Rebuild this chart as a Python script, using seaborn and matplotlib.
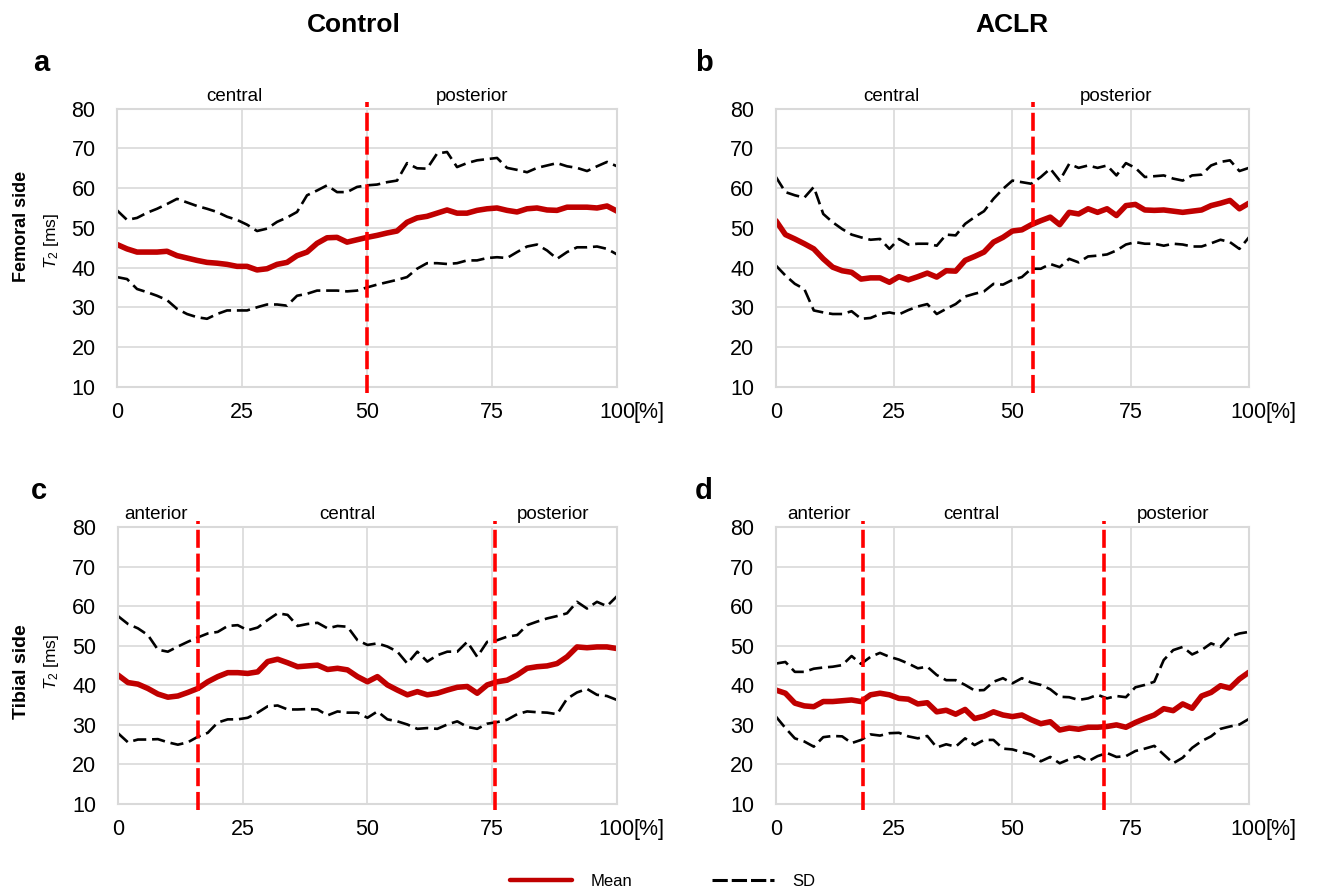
import numpy as np
import pandas as pd
import matplotlib
matplotlib.use("Agg")
import matplotlib.pyplot as plt
import seaborn as sns

# position along the cartilage [%]
pos = np.arange(0, 101, 2)

# a: Control, femoral
a_up = [54.4, 52.0, 52.5, 53.8, 54.8, 56.0, 57.3, 56.4, 55.5, 54.8, 54.0, 52.8, 52.0, 50.8, 49.2, 49.8,
        51.5, 52.6, 54.0, 58.2, 59.4, 60.7, 59.0, 59.0, 60.3, 60.7, 60.9, 61.5, 61.9, 66.3, 65.0, 64.9,
        68.7, 69.1, 65.3, 66.3, 67.0, 67.3, 67.6, 65.1, 64.6, 64.0, 65.1, 65.7, 66.3, 65.5, 65.1, 64.3,
        65.5, 66.6, 65.5]
a_mean = [45.8, 44.7, 43.9, 43.9, 43.9, 44.1, 43.0, 42.4, 41.8, 41.3, 41.1, 40.8, 40.3, 40.3, 39.4, 39.7,
          40.8, 41.3, 43.0, 43.9, 46.1, 47.5, 47.6, 46.4, 47.0, 47.6, 48.1, 48.7, 49.2, 51.4, 52.5, 52.9,
          53.7, 54.5, 53.7, 53.7, 54.4, 54.8, 55.0, 54.4, 54.0, 54.8, 55.0, 54.5, 54.4, 55.2, 55.2, 55.2,
          55.0, 55.5, 54.2]
a_low = [37.6, 37.1, 34.6, 33.8, 32.9, 31.8, 29.6, 28.3, 27.5, 27.1, 28.3, 29.2, 29.2, 29.2, 30.0, 30.7,
         30.7, 30.4, 32.9, 33.4, 34.2, 34.2, 34.2, 34.0, 34.2, 35.0, 35.7, 36.3, 36.9, 37.6, 39.7, 41.1,
         41.1, 40.9, 41.1, 41.8, 41.8, 42.4, 42.6, 42.4, 43.9, 45.3, 45.8, 44.3, 42.2, 43.9, 45.1, 45.1,
         45.3, 44.7, 43.3]

# b: ACLR, femoral
b_up = [62.8, 59.0, 58.2, 57.6, 60.3, 53.5, 51.4, 49.7, 48.3, 47.6, 47.0, 47.2, 44.7, 47.2, 45.8, 46.0,
        46.0, 45.5, 48.3, 48.1, 51.0, 52.7, 54.2, 57.3, 59.8, 61.9, 61.5, 61.1, 62.8, 64.9, 61.9, 66.1,
        65.1, 65.7, 65.1, 65.7, 63.2, 66.3, 65.1, 62.8, 63.0, 63.2, 62.4, 61.9, 63.2, 63.4, 65.7, 66.6,
        67.0, 64.3, 65.1]
b_mean = [51.8, 48.3, 47.2, 46.0, 44.7, 42.2, 40.1, 39.2, 38.8, 37.1, 37.4, 37.4, 36.3, 37.7, 36.9, 37.7,
          38.6, 37.6, 39.2, 39.1, 41.8, 42.8, 43.9, 46.4, 47.6, 49.2, 49.5, 50.8, 51.8, 52.7, 50.8, 53.9,
          53.5, 54.8, 53.9, 54.8, 53.1, 55.6, 55.9, 54.5, 54.4, 54.5, 54.2, 53.9, 54.2, 54.5, 55.6, 56.2,
          56.9, 54.8, 56.2]
b_low = [40.5, 38.0, 35.9, 34.6, 29.2, 28.7, 28.3, 28.3, 29.0, 27.1, 27.3, 28.3, 28.7, 28.2, 29.3, 30.2,
         30.8, 28.3, 29.6, 30.8, 32.7, 33.4, 34.0, 35.9, 35.7, 36.9, 37.6, 39.7, 39.7, 40.9, 40.1, 42.2,
         41.3, 42.8, 43.0, 43.3, 44.3, 45.8, 46.4, 46.0, 46.0, 45.5, 46.0, 45.8, 45.3, 45.3, 46.1, 47.0,
         46.4, 44.7, 47.6]

# c: Control, tibial
c_up = [57.5, 55.5, 54.4, 52.7, 49.0, 48.5, 49.8, 51.0, 52.1, 53.1, 53.5, 55.0, 55.2, 53.9, 54.6, 56.5,
        58.2, 57.8, 55.0, 55.5, 55.8, 54.4, 55.0, 54.8, 51.4, 50.2, 50.6, 49.8, 48.5, 45.5, 48.5, 46.0,
        47.6, 48.5, 48.5, 51.0, 47.2, 51.0, 51.4, 52.3, 52.7, 55.2, 56.1, 56.9, 57.5, 58.2, 61.1, 59.4,
        61.1, 60.0, 62.5]
c_mean = [42.6, 40.7, 40.3, 39.2, 37.8, 37.0, 37.3, 38.2, 39.2, 40.9, 42.2, 43.2, 43.2, 43.0, 43.4, 46.0,
          46.6, 45.7, 44.7, 44.9, 45.1, 44.0, 44.3, 43.9, 42.2, 40.9, 42.2, 40.1, 38.8, 37.6, 38.4, 37.6,
          38.0, 38.8, 39.5, 39.7, 38.0, 40.1, 40.9, 41.3, 42.6, 44.3, 44.7, 44.9, 45.5, 47.2, 49.7, 49.5,
          49.7, 49.7, 49.3]
c_low = [27.9, 25.6, 26.3, 26.3, 26.4, 25.6, 25.0, 25.6, 27.0, 28.0, 30.6, 31.4, 31.4, 31.8, 33.1, 34.7,
         34.9, 33.9, 33.9, 34.0, 33.9, 32.4, 33.4, 33.1, 33.1, 31.8, 33.4, 31.4, 30.9, 30.1, 29.0, 29.2,
         29.0, 30.1, 30.9, 29.5, 29.0, 30.3, 30.7, 31.3, 32.7, 33.4, 33.2, 33.1, 32.7, 36.6, 38.2, 39.1,
         37.6, 37.3, 36.3]

# d: ACLR, tibial
d_up = [45.5, 45.9, 43.4, 43.4, 44.2, 44.5, 44.7, 45.1, 47.4, 45.4, 47.2, 48.2, 47.2, 46.5, 45.5, 44.3,
        44.7, 42.6, 41.3, 41.3, 40.1, 38.7, 38.8, 40.9, 41.8, 40.5, 41.8, 40.7, 40.1, 39.0, 37.1, 37.0,
        36.3, 36.7, 37.6, 36.7, 37.3, 37.0, 39.5, 40.1, 40.9, 46.4, 48.9, 49.7, 47.8, 48.9, 50.6, 49.7,
        52.3, 53.1, 53.5]
d_mean = [38.8, 38.0, 35.5, 34.8, 34.6, 35.9, 35.9, 36.1, 36.3, 35.9, 37.6, 38.0, 37.6, 36.7, 36.5, 35.3,
          35.6, 33.3, 33.7, 32.7, 33.9, 31.6, 32.2, 33.3, 32.5, 32.1, 32.5, 31.3, 30.3, 30.8, 28.7, 29.2,
          28.9, 29.4, 29.4, 29.6, 30.0, 29.4, 30.6, 31.6, 32.5, 34.1, 33.6, 35.3, 34.2, 37.3, 38.2, 39.9,
          39.3, 41.6, 43.3]
d_low = [32.1, 29.2, 26.6, 25.8, 24.5, 26.9, 27.2, 27.1, 25.4, 26.2, 27.6, 27.3, 27.9, 28.0, 27.1, 26.6,
         27.2, 24.3, 25.1, 24.5, 26.6, 24.9, 26.2, 26.2, 24.0, 23.8, 23.1, 22.5, 20.8, 21.9, 20.3, 21.3,
         22.1, 20.8, 22.1, 22.9, 21.9, 22.1, 23.4, 24.0, 24.7, 22.5, 20.3, 21.7, 24.2, 25.9, 27.1, 29.0,
         29.6, 30.1, 31.5]

# region boundaries [%] and region label centres
a_bounds = [50]
b_bounds = [54.3]
c_bounds = [16.0, 75.6]
d_bounds = [18.4, 69.4]
fem_regions = ["central", "posterior"]
tib_regions = ["anterior", "central", "posterior"]
a_label_x = [23.5, 71]
b_label_x = [24.5, 72]
c_label_x = [7.7, 46, 87.2]
d_label_x = [9, 41.4, 84]

panels = [
    (a_up, a_mean, a_low, a_bounds, fem_regions, a_label_x),
    (b_up, b_mean, b_low, b_bounds, fem_regions, b_label_x),
    (c_up, c_mean, c_low, c_bounds, tib_regions, c_label_x),
    (d_up, d_mean, d_low, d_bounds, tib_regions, d_label_x),
]

sns.set_theme(style="whitegrid")
plt.rcParams['font.family'] = ['Liberation Sans', 'DejaVu Sans']
plt.rcParams['mathtext.fontset'] = 'custom'
plt.rcParams['mathtext.rm'] = 'Liberation Sans'
plt.rcParams['mathtext.it'] = 'Liberation Sans:italic'
plt.rcParams['text.color'] = 'black'
plt.rcParams['xtick.color'] = 'black'
plt.rcParams['ytick.color'] = 'black'

fig = plt.figure(figsize=(13.33, 8.91), dpi=100)
boxes = [
    [0.0878, 0.5660, 0.3751, 0.3120],
    [0.5821, 0.5660, 0.3548, 0.3120],
    [0.0885, 0.0976, 0.3743, 0.3109],
    [0.5821, 0.0976, 0.3548, 0.3109],
]
grid_col = "#d9d9d9"
mean_col = "#c00000"
sd_dash = (0, (5, 2.2))

for box, (up, mean, low, bounds, regions, label_x) in zip(boxes, panels):
    ax = fig.add_axes(box)
    df = pd.DataFrame({"pos": pos, "up": up, "mean": mean, "low": low})
    sns.lineplot(data=df, x="pos", y="up", ax=ax, color="black", lw=1.9, linestyle=sd_dash)
    sns.lineplot(data=df, x="pos", y="low", ax=ax, color="black", lw=1.9, linestyle=sd_dash)
    sns.lineplot(data=df, x="pos", y="mean", ax=ax, color=mean_col, lw=4.0)
    for b in bounds:
        ax.plot([b, b], [8.5, 81.6], color="#ff0000", lw=2.6,
                linestyle=(0, (5, 1.6)), clip_on=False, zorder=5)
    for name, lx in zip(regions, label_x):
        ax.text(lx, 81.0, name, ha="center", va="bottom", fontsize=13.5)
    ax.set_xlim(0, 100)
    ax.set_ylim(10, 80)
    ax.set_xticks([0, 25, 50, 75, 100])
    ax.set_xticklabels(["0", "25", "50", "75", "100"])
    ax.set_yticks(range(10, 81, 10))
    ax.tick_params(labelsize=15.5, length=0)
    ax.tick_params(axis="y", pad=15.5)
    ax.tick_params(axis="x", pad=11)
    # unit appended right after the last tick label
    ax.annotate("[%]", xy=(1, 0), xycoords="axes fraction", xytext=(12, -11),
                textcoords="offset points", ha="left", va="top", fontsize=15.5)
    ax.set_xlabel("")
    ax.set_ylabel("")
    ax.grid(True, color=grid_col, lw=1.2)
    for s in ax.spines.values():
        s.set_color(grid_col)
        s.set_linewidth(1.5)

# panel letters and column titles
for letter, (x, y) in zip("abcd", [(0.031, 0.929), (0.528, 0.929), (0.029, 0.449), (0.528, 0.449)]):
    fig.text(x, y, letter, fontsize=21, fontweight="bold", va="center", ha="center")
fig.text(0.2656, 0.972, "Control", fontsize=19, fontweight="bold", ha="center", va="center")
fig.text(0.759, 0.972, "ACLR", fontsize=19, fontweight="bold", ha="center", va="center")

# row labels
fig.text(0.0165, 0.746, "Femoral side", rotation=90, fontsize=13, fontweight="bold",
         ha="center", va="center")
fig.text(0.039, 0.730, r"$T_2$ [ms]", rotation=90, fontsize=12.5, ha="center", va="center")
fig.text(0.0165, 0.246, "Tibial side", rotation=90, fontsize=14, fontweight="bold",
         ha="center", va="center")
fig.text(0.039, 0.257, r"$T_2$ [ms]", rotation=90, fontsize=12.5, ha="center", va="center")

# legend
handles = [
    plt.Line2D([], [], color=mean_col, lw=3.2),
    plt.Line2D([], [], color="black", lw=2.2, linestyle=(0, (5, 1.3))),
]
fig.legend(handles, ["Mean", "SD"], loc="center", bbox_to_anchor=(0.497, 0.011),
           ncol=2, frameon=False, fontsize=12, handlelength=3.7, columnspacing=4.8,
           handletextpad=1.1)

fig.savefig("out.png", dpi=100)
